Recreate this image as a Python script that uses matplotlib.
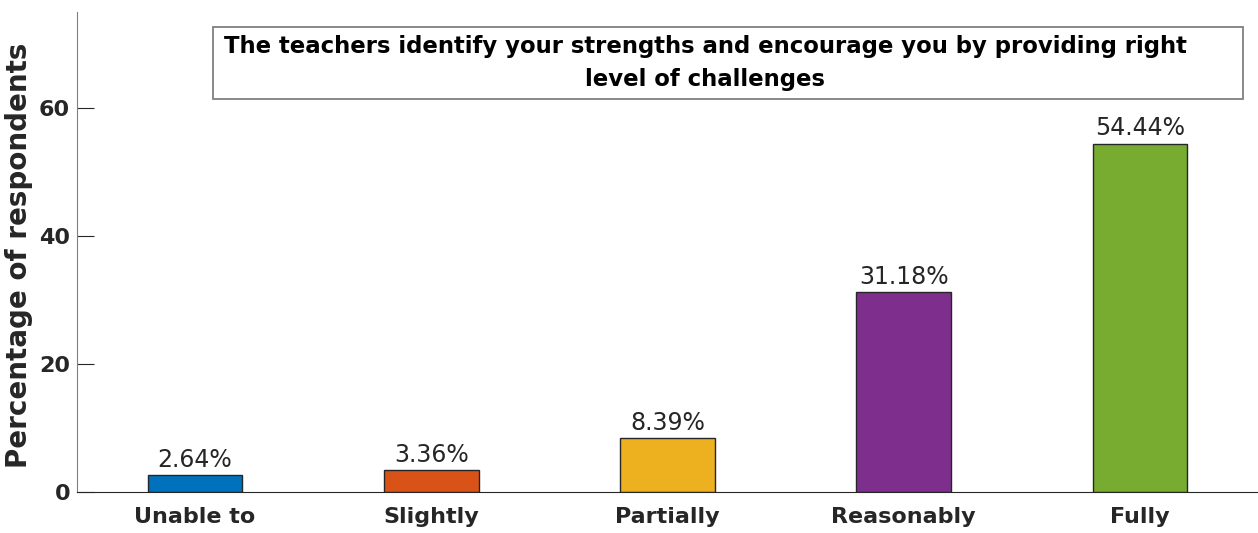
import matplotlib
matplotlib.use("Agg")
import matplotlib.pyplot as plt
from matplotlib.patches import Rectangle

categories = ["Unable to", "Slightly", "Partially", "Reasonably", "Fully"]
values = [2.64, 3.36, 8.39, 31.18, 54.44]
colors = ["#0072BD", "#D95319", "#EDB120", "#7E2F8E", "#77AC30"]
yticks = [0, 20, 40, 60]
title = "The teachers identify your strengths and encourage you by providing right\nlevel of challenges"

W, H = 1258, 533
fig = plt.figure(figsize=(W / 100, H / 100), dpi=100)
ax = fig.add_axes([77/W, 1 - 492/H, (W - 77)/W, (492 - 12)/H])

x = list(range(1, len(values) + 1))
ax.bar(x, values, width=0.4, color=colors, edgecolor="#262626", linewidth=1.0, zorder=2)
for xi, v in zip(x, values):
    ax.text(xi, v + 0.5, f"{v:.2f}%", ha="center", va="bottom", fontsize=17, color="#262626")

ax.set_xlim(0.5, 5.5)
ax.set_ylim(0, 75)
ax.set_xticks(x)
ax.set_xticklabels(categories, fontsize=16, fontweight="bold", color="#262626")
ax.set_yticks(yticks)
ax.set_yticklabels([str(t) for t in yticks], fontsize=16, fontweight="bold", color="#262626")
ax.tick_params(axis="both", direction="in", length=12, width=0.8, colors="#262626", zorder=3)
ax.tick_params(axis="x", pad=11)
ax.tick_params(axis="y", pad=5)
for s in ["top", "right"]:
    ax.spines[s].set_visible(False)
ax.spines["left"].set_color("#808080")
ax.spines["bottom"].set_color("#262626")
ax.set_ylabel("Percentage of respondents", fontsize=20, fontweight="bold", color="#262626")
ax.yaxis.set_label_coords((33 - 77) / (W - 77), (492 - 255) / (492 - 12))

fig.patches.append(Rectangle((213/W, 1 - 99/H), (1243 - 213)/W, (99 - 27)/H,
                             transform=fig.transFigure, facecolor="white",
                             edgecolor="#808080", linewidth=1.3, zorder=5))
fig.text(705/W, 1 - 63/H, title, ha="center", va="center", fontsize=16.4, fontweight="bold",
         color="black", linespacing=1.55, zorder=6)

fig.savefig("out.png", dpi=100)
